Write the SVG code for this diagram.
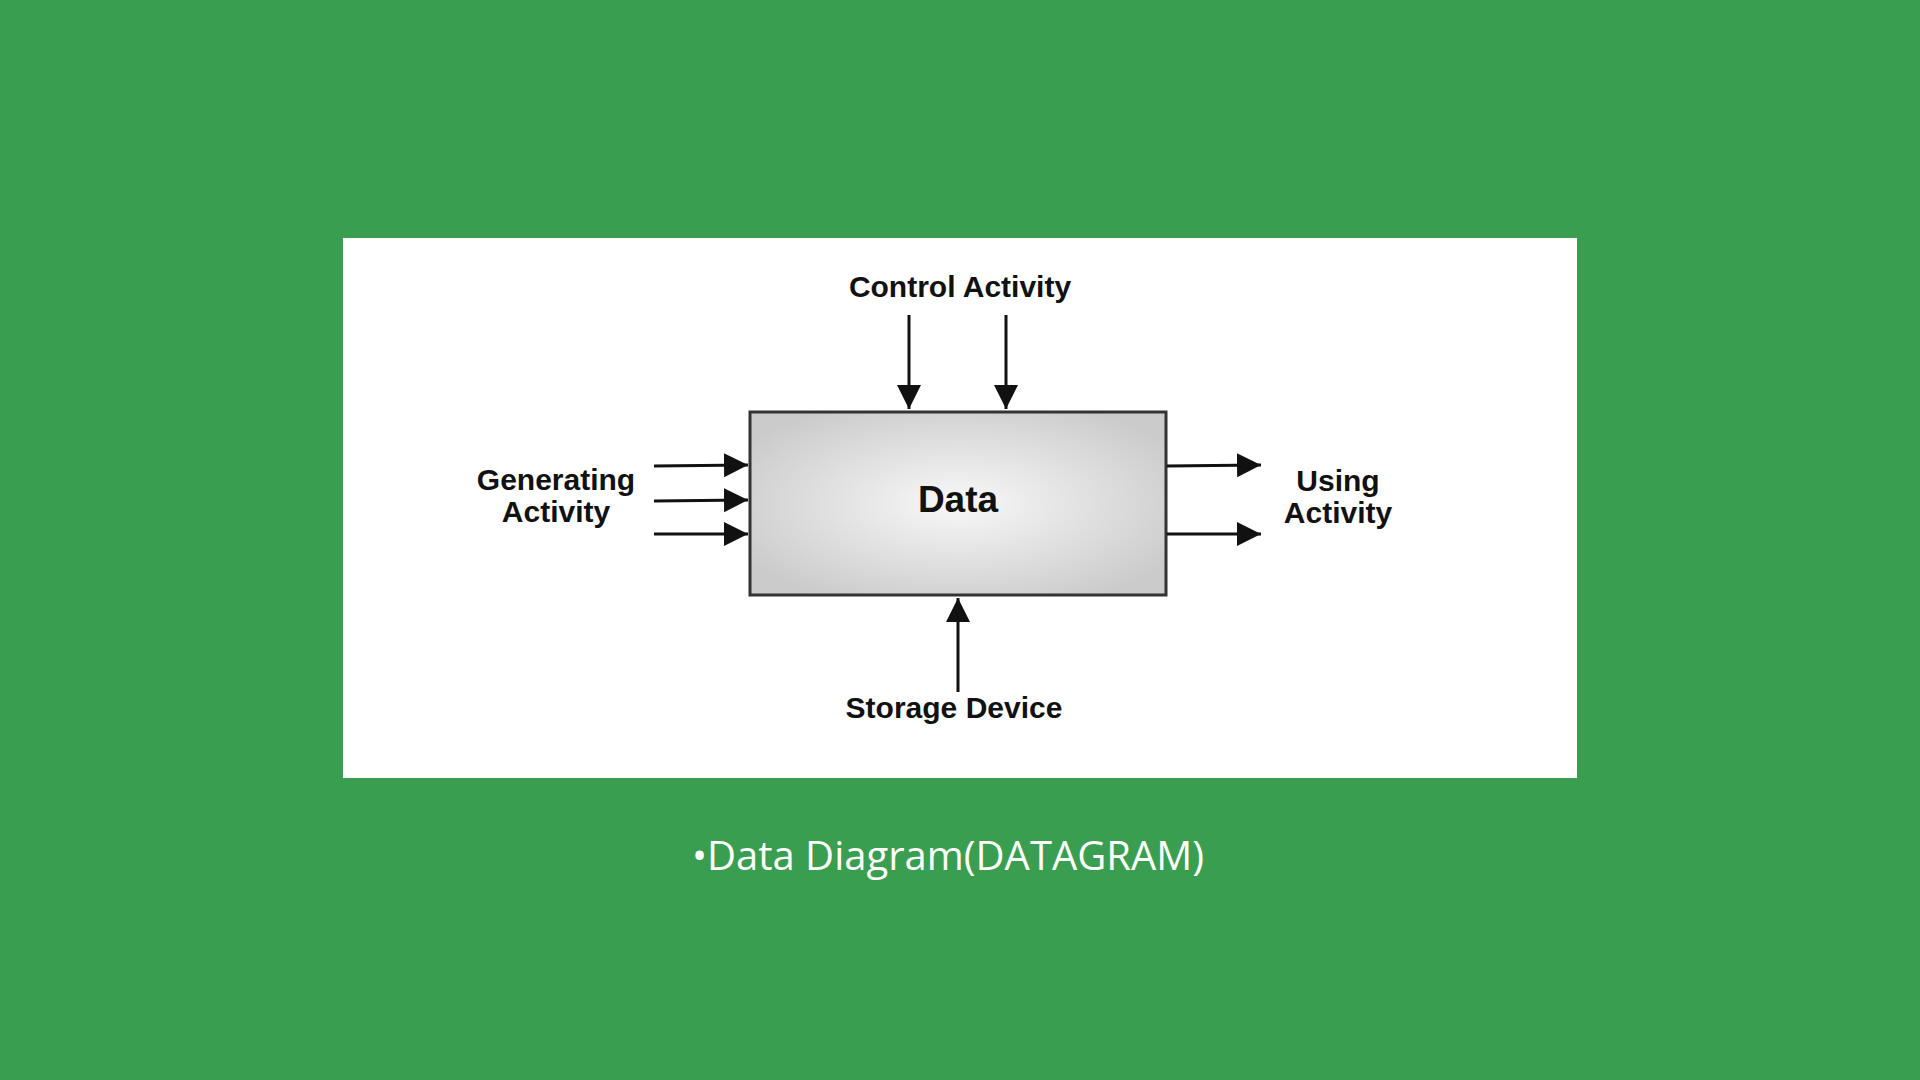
<svg xmlns="http://www.w3.org/2000/svg" width="1920" height="1080" viewBox="0 0 1920 1080">
  <style>
    .lbl { font-family: "Liberation Sans", Arial, sans-serif; font-weight: bold; font-size: 30px; fill: #111; text-anchor: middle; }
    .conn { stroke: #111; stroke-width: 3; fill: none; }
    .cap { font-family: "Open Sans", "Noto Sans", sans-serif; font-size: 40px; fill: #ffffff; text-anchor: middle; }
  </style>
  <defs>
    <radialGradient id="boxGrad" cx="0.5" cy="0.5" r="0.6">
      <stop offset="0" stop-color="#f8f8f8"/>
      <stop offset="1" stop-color="#cbcbcb"/>
    </radialGradient>
    <marker id="arrow" markerWidth="8" markerHeight="8" refX="8" refY="4" orient="auto" markerUnits="strokeWidth">
      <path d="M0,0 L8,4 L0,8 Z" fill="#111"/>
    </marker>
  </defs>
  <rect x="0" y="0" width="1920" height="1080" fill="#3a9e50"/>
  <rect x="343" y="238" width="1234" height="540" fill="#ffffff"/>

  <g id="data-node">
    <rect x="750" y="412" width="416" height="183" fill="url(#boxGrad)" stroke="#333" stroke-width="3"/>
    <text x="958" y="512" class="lbl" style="font-size:37px">Data</text>
  </g>

  <g id="control-activity">
    <text x="960" y="297" class="lbl">Control Activity</text>
  </g>
  <g id="generating-activity">
    <text x="556" y="490" class="lbl">Generating</text>
    <text x="556" y="522" class="lbl">Activity</text>
  </g>
  <g id="using-activity">
    <text x="1338" y="491" class="lbl">Using</text>
    <text x="1338" y="523" class="lbl">Activity</text>
  </g>
  <g id="storage-device">
    <text x="954" y="718" class="lbl">Storage Device</text>
  </g>

  <g id="connectors" class="conn">
    <line x1="909" y1="315" x2="909" y2="409" marker-end="url(#arrow)"/>
    <line x1="1006" y1="315" x2="1006" y2="409" marker-end="url(#arrow)"/>
    <line x1="654" y1="466" x2="748" y2="465" marker-end="url(#arrow)"/>
    <line x1="654" y1="501" x2="748" y2="500" marker-end="url(#arrow)"/>
    <line x1="654" y1="534" x2="748" y2="534" marker-end="url(#arrow)"/>
    <line x1="1167" y1="466" x2="1261" y2="465" marker-end="url(#arrow)"/>
    <line x1="1167" y1="534" x2="1261" y2="534" marker-end="url(#arrow)"/>
    <line x1="958" y1="692" x2="958" y2="598" marker-end="url(#arrow)"/>
  </g>

  <text x="948" y="870" class="cap">•Data Diagram(DATAGRAM)</text>
</svg>
